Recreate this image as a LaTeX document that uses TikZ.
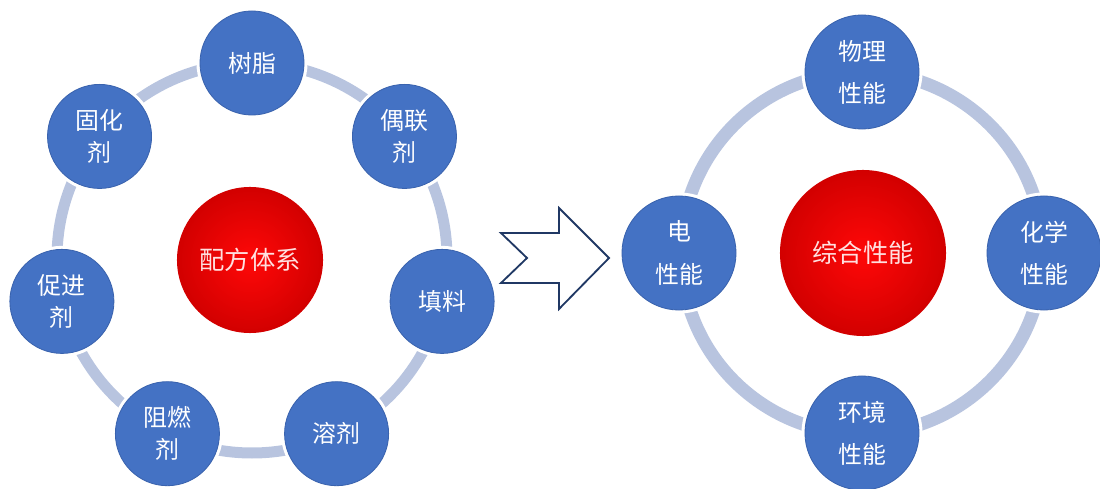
\documentclass[tikz,border=0pt]{standalone}
\usepackage{fontspec}
\newfontfamily\cjk{Noto Sans CJK SC}
\usetikzlibrary{positioning}
\definecolor{nodeblue}{HTML}{4472C4}
\definecolor{rimblue}{HTML}{3A63AE}
\definecolor{ringgray}{HTML}{B8C4DF}
\definecolor{arrownavy}{HTML}{203864}
\definecolor{corered}{HTML}{FF0808}
\definecolor{coredark}{HTML}{D20000}

\begin{document}
\begin{tikzpicture}[
  x=0.025cm, y=0.025cm,
  part/.style 2 args={circle, fill=nodeblue, draw=rimblue, line width=0.6pt,
                      preaction={draw=white, line width=5pt},
                      minimum size=#1, inner sep=0pt, align=center, text=white,
                      font=\cjk\fontsize{17}{#2}\selectfont},
  core/.style={circle, inner color=corered, outer color=coredark,
               minimum size=#1, inner sep=0pt, text=red!12!white,
               font=\cjk\fontsize{18}{24}\selectfont},
  ring/.style={color=ringgray, line width=#1}
]
  \useasboundingbox (0,0) rectangle (1100,488);

  % ── formulation ring (left) ─────────────────────────────────────────────
  \coordinate (ctrL) at (252,230);
  \draw[ring=0.275cm] (ctrL) circle[radius=195];
  \node[core=3.65cm] (recipe) at (250,228) {配方体系};

  \node[part={2.6cm}{22.8pt}] (resin)    at ([shift={(90:195)}]ctrL)      {树脂};
  \node[part={2.6cm}{22.8pt}] (coupler)  at ([shift={(38.57:195)}]ctrL)   {偶联\\剂};
  \node[part={2.6cm}{22.8pt}] (filler)   at ([shift={(-12.86:195)}]ctrL)  {填料};
  \node[part={2.6cm}{22.8pt}] (solvent)  at ([shift={(-64.29:195)}]ctrL)  {溶剂};
  \node[part={2.6cm}{22.8pt}] (retard)   at ([shift={(-115.71:195)}]ctrL) {阻燃\\剂};
  \node[part={2.6cm}{22.8pt}] (accel)    at ([shift={(-167.14:195)}]ctrL) {促进\\剂};
  \node[part={2.6cm}{22.8pt}] (curing)   at ([shift={(141.43:195)}]ctrL)  {固化\\剂};

  % ── notched arrow ───────────────────────────────────────────────────────
  \draw[arrownavy, line width=1.3pt, line join=miter]
    (501,255) -- (559,255) -- (559,280) -- (609,230) -- (559,179)
    -- (559,205) -- (501,205) -- (527,230) -- cycle;

  % ── performance ring (right) ────────────────────────────────────────────
  \coordinate (ctrR) at (862,235);
  \draw[ring=0.325cm] (ctrR) circle[radius=181];
  \node[core=4.15cm] (overall) at (863,235) {综合性能};

  \node[part={2.85cm}{30pt}] (phys)  at ([shift={(90:181)}]ctrR)  {物理\\性能};
  \node[part={2.85cm}{30pt}] (elec)  at ([shift={(180:183)}]ctrR) {电\\性能};
  \node[part={2.85cm}{30pt}] (chem)  at ([shift={(0:182)}]ctrR)   {化学\\性能};
  \node[part={2.85cm}{30pt}] (envir) at ([shift={(270:180)}]ctrR) {环境\\性能};
\end{tikzpicture}
\end{document}
